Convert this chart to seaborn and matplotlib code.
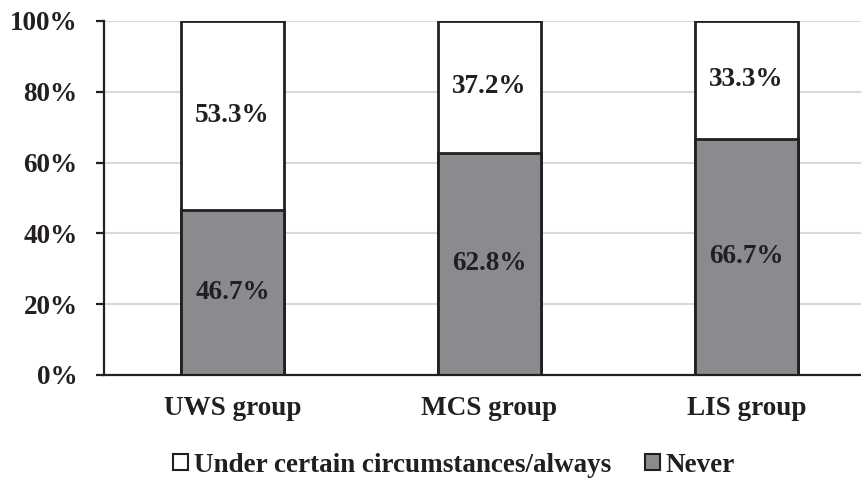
import matplotlib
matplotlib.use("Agg")
import matplotlib.pyplot as plt
from matplotlib.patches import Patch
from matplotlib.ticker import FuncFormatter
import numpy as np
import pandas as pd
import seaborn as sns

groups = ["UWS group", "MCS group", "LIS group"]
never = [46.7, 62.8, 66.7]
sometimes = [53.3, 37.2, 33.3]
series_labels = ["Under certain circumstances/always", "Never"]
y_ticks = [0, 20, 40, 60, 80, 100]

gray = "#8a8b8f"
edge = "#231f20"
grid_c = "#d9d9d9"
fs = 19.5

sns.set_theme(style="white")
plt.rcParams["font.family"] = ["Liberation Serif", "DejaVu Serif"]
plt.rcParams["font.weight"] = "bold"

df = pd.DataFrame({
    "group": groups,
    "never": never,
    "sometimes": sometimes,
})
df["total"] = df["never"] + df["sometimes"]

fig = plt.figure(figsize=(8.62, 4.79), dpi=100)
ax = fig.add_axes([104 / 862, 1 - 375 / 479, (875 - 104) / 862, (375 - 21) / 479])

# stacked bars: full-height white segment, then the "Never" part on top of it
sns.barplot(data=df, x="group", y="total", color="white", edgecolor=edge,
            linewidth=2, width=0.4, saturation=1, ax=ax, zorder=3)
sns.barplot(data=df, x="group", y="never", color=gray, edgecolor=edge,
            linewidth=2, width=0.4, saturation=1, ax=ax, zorder=4)

for i, (n, s) in enumerate(zip(never, sometimes)):
    ax.text(i, n / 2, f"{n:.1f}%", ha="center", va="center", fontsize=fs,
            fontweight="bold", color=edge, zorder=5)
    ax.text(i, n + s / 2, f"{s:.1f}%", ha="center", va="center", fontsize=fs,
            fontweight="bold", color=edge, zorder=5)

ax.set_xlim(-0.5, 2.5)
ax.set_ylim(0, 100)
ax.set_yticks(y_ticks)
ax.yaxis.set_major_formatter(FuncFormatter(lambda v, p: f"{v:.0f}%"))
ax.set_xlabel("")
ax.set_ylabel("")
ax.yaxis.grid(True, color=grid_c, linewidth=1.5, zorder=0)
ax.set_axisbelow(True)

for side in ["top", "right"]:
    ax.spines[side].set_visible(False)
for side in ["left", "bottom"]:
    ax.spines[side].set_color(edge)
    ax.spines[side].set_linewidth(1.6)
    ax.spines[side].set_zorder(6)

ax.tick_params(axis="y", direction="out", length=6, width=1.6, color=edge,
               pad=13, labelsize=fs, labelcolor=edge, left=True)
ax.tick_params(axis="x", length=0, pad=15, labelsize=fs, labelcolor=edge)
for lbl in ax.get_xticklabels() + ax.get_yticklabels():
    lbl.set_fontweight("bold")

handles = [
    Patch(facecolor="white", edgecolor=edge, linewidth=1.5, label=series_labels[0]),
    Patch(facecolor=gray, edgecolor=edge, linewidth=1.5, label=series_labels[1]),
]
fig.legend(handles=handles, loc="center", bbox_to_anchor=(454 / 862, 1 - 465 / 479),
           ncol=2, frameon=False, prop={"family": "Liberation Serif", "weight": "bold", "size": fs},
           handlelength=0.55, handleheight=0.55, handletextpad=0.2, columnspacing=1.25,
           labelcolor=edge)

fig.savefig("out.png", dpi=100)
